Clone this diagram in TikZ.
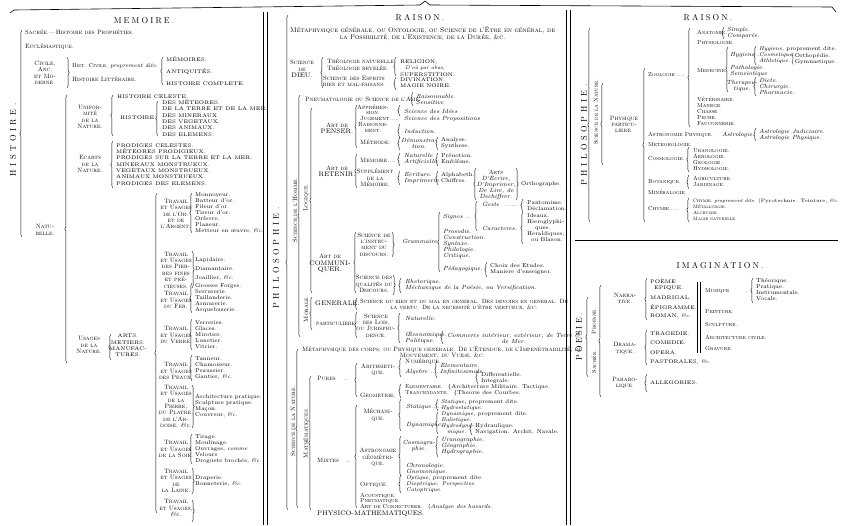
\documentclass[tikz,border=0pt]{standalone}
\usepackage{fontspec}
\usepackage{tikz}
\usetikzlibrary{decorations.pathreplacing}
\newfontfamily\ttlfont[Extension=.otf,LetterSpace=25]{lmroman10-regular}
\newfontfamily\widefont[Extension=.otf,LetterSpace=42]{lmroman10-regular}
\newcommand{\etc}{{\normalfont\itshape\&c.}}
\newcommand{\Bg}[1]{{\normalfont\fontsize{6.6}{6.6}\selectfont #1}}

\begin{document}
\begin{tikzpicture}[x=1pt,y=-1pt]
	\tikzstyle{lbl}=[inner sep=0,align=center,font=\fontsize{6.2}{6.4}\selectfont\scshape]
	\tikzstyle{lbs}=[inner sep=0,align=center,font=\fontsize{5.8}{6}\selectfont\scshape]
	\tikzstyle{itm}=[inner sep=0,align=center,font=\fontsize{5.6}{6}\selectfont]
	\tikzstyle{itl}=[inner sep=0,align=center,font=\fontsize{6}{6}\selectfont\itshape]
	\tikzstyle{big}=[inner sep=0,align=center,font=\fontsize{5.2}{6.3}\selectfont]
	\tikzstyle{ttl}=[inner sep=0,font=\fontsize{8.5}{9}\selectfont\ttlfont]
	\tikzstyle{wide}=[inner sep=0,font=\fontsize{8.5}{9}\selectfont\widefont]
	\tikzstyle{lst}=[align=left,anchor=west]
	\tikzstyle{brc}=[draw,line width=0.4pt,decorate,decoration={brace,amplitude=2.2pt}]
	\tikzstyle{rule}=[draw,line width=0.6pt]
	\useasboundingbox (0,0) rectangle (846,525);
	\draw[rule] (10,13) -- (14,10) -- (420,5) -- (425,1) -- (430,5) -- (832,7) -- (836,12);
	\draw[rule] (263,12) -- (263,525);
	\draw[rule] (267,12) -- (267,525);
	\draw[rule] (566,10) -- (566,525);
	\draw[rule] (570,10) -- (570,525);
	\draw[rule] (575,240) -- (838,240);
	\node[ttl] (mem) at (144,21) {MEMOIRE.};
	\node[wide,rotate=90] (hist) at (13,140) {HISTOIRE.};
	\draw[brc] (22,237) -- (22,30);
	\node[lbl,anchor=west] (h1) at (25,32) {Sacrée.—Histoire des Prophéties.};
	\node[lbl,anchor=west] (h2) at (25,47) {Ecclésiastique.};
	\node[lbl] (h3) at (45,73) {Civile,\\Anc.\\et Mo-\\derne.};
	\draw[brc] (67,57) -- (67,88);
	\node[itm,anchor=west] (h4) at (72,66) {\textsc{Hist. Civile,} \textit{proprement dite.}};
	\node[lbl,anchor=west] (h5) at (72,79) {Histoire Littéraire.};
	\draw[brc] (163,85) -- (163,57);
	\node[big,lst] (h6) at (166,71) {MÉMOIRES.\\[6pt]ANTIQUITÉS.\\[6pt]HISTOIRE COMPLETE.};
	\draw[brc] (67,363) -- (67,95);
	\node[lbl] (h7) at (45,230) {Natu-\\relle.};
	\node[lbl] (h8) at (90,117) {Unifor-\\mité\\de la\\Nature.};
	\draw[brc] (113,136) -- (113,95);
	\node[big,anchor=west] (h9) at (117,97) {HISTOIRE CELESTE.};
	\node[big,anchor=west] (h10) at (120,118) {HISTOIRE.};
	\draw[brc] (158,136) -- (158,101);
	\node[big,lst] (h11) at (162,118) {DES MÉTEORES.\\DE LA TERRE ET DE LA MER.\\DES MINERAUX.\\DES VEGETAUX.\\DES ANIMAUX.\\DES ELEMENS.};
	\node[lbl] (h12) at (90,164) {Ecarts\\de la\\Nature.};
	\draw[brc] (113,188) -- (113,141);
	\node[big,lst] (h13) at (116,164.5) {PRODIGES CELESTES.\\MÉTEORES PRODIGIEUX.\\PRODIGES SUR LA TERRE ET LA MER.\\MINERAUX MONSTRUEUX.\\VEGETAUX MONSTRUEUX.\\ANIMAUX MONSTRUEUX.\\PRODIGES DES ELEMENS.};
	\node[lbl] (h14) at (89,345) {Usages\\de la\\Nature.};
	\draw[brc] (111,360) -- (111,334);
	\node[big] (h15) at (128,345.5) {ARTS.\\METIERS.\\MANUFAC-\\TURES.};
	\draw[brc] (157,513) -- (157,193);
	\node[lbl] (t1) at (176,214) {Travail\\et Usages\\de l'Or.\\et de\\l'Argent.};
	\draw[brc] (192,233) -- (192,193);
	\node[itm,lst] (u1) at (195,213) {Monnoyeur.\\Batteur d'or.\\Fileur d'or.\\Tireur d'or.\\Orfevre.\\Planeur.\\Metteur en œuvre, \etc};
	\node[lbl] (t2) at (176,270) {Travail\\et Usages\\des Pier-\\res fines\\et pré-\\cieuses.};
	\draw[brc] (192,251) -- (192,288);
	\node[itm,lst] (u2) at (195,269) {Lapidaire.\\[3pt]Diamantaire.\\[3pt]Joaillier, \etc};
	\node[lbl] (t3) at (176,300) {Travail\\et Usages\\du Fer.};
	\draw[brc] (192,313) -- (192,283);
	\node[itm,lst] (u3) at (195,298) {Grosses Forges.\\Serrurerie.\\Taillanderie.\\Armurerie.\\Arquebuserie.};
	\node[lbl] (t4) at (176,335) {Travail\\et Usages\\du Verre.};
	\draw[brc] (192,350) -- (192,319);
	\node[itm,lst] (u4) at (195,335) {Verreries.\\Glaces.\\Mirotier.\\Lunetier.\\Vitrier.};
	\node[lbl] (t5) at (176,371) {Travail\\et Usages\\des Peaux.};
	\draw[brc] (192,381) -- (192,355);
	\node[itm,lst] (u5) at (195,368) {Tanneur.\\Chamoiseur.\\Peaussier.\\Gantier, \etc};
	\node[lbl] (t6) at (176,407) {Travail\\et Usages\\de la\\Pierre,\\du Platre,\\de l'Ar-\\doise, \etc};
	\node[itm,lst] (u6) at (195,406) {Architecture pratique.\\Sculpture pratique.\\Maçon.\\Couvreur, \etc};
	\draw[brc] (192,385) -- (192,428);
	\node[lbl] (t7) at (176,449) {Travail\\et Usages\\de la Soie.};
	\draw[brc] (192,464) -- (192,434);
	\node[itm,lst] (u7) at (195,449) {Tirage.\\Moulinage.\\Ouvrages, \textit{comme}\\Velours\\Droguets brochés, \etc};
	\node[lbl] (t8) at (176,481) {Travail\\et Usages\\de\\la Laine.};
	\draw[brc] (192,468) -- (192,494);
	\node[itm,lst] (u8) at (195,481.5) {Draperie.\\Bonneterie, \etc};
	\node[lbl] (t9) at (176,508) {Travail\\et Usages,\\\etc};
	\draw[brc] (192,500) -- (192,522);
	\node[ttl] (rai) at (420,18) {RAISON.};
	\node[lbl,anchor=west,font=\fontsize{6.8}{7.4}\selectfont\scshape] (p1) at (290,34) {Métaphysique générale, ou Ontologie, ou Science de l'Être en général, de\\la Possibilité, de l'Existence, de la Durée, \&c.};
	\node[wide,rotate=90] (phil) at (276,258) {PHILOSOPHIE.};
	\draw[brc] (288,510) -- (288,15);
	\node[lbl] (p2) at (302,69) {Science\\de\\\Bg{DIEU.}};
	\draw[brc] (323,88) -- (323,57);
	\node[lbl,lst] (p3) at (327,64.5) {Théologie naturelle.\\Théologie revelée.};
	\node[lbl] (p4) at (354,81.5) {Science des Esprits\\bien et mal-faisans.};
	\draw[brc] (396,76) -- (396,57);
	\node[big,lst] (p5) at (400,68) {RELIGION,\\\hspace{5pt}\textit{D'où par abus,}\\SUPERSTITION.};
	\draw[brc] (396,90) -- (396,77);
	\node[big,lst] (p6) at (400,83) {DIVINATION.\\MAGIE NOIRE.};
	\node[lbl,rotate=90] (p7) at (295,210) {Science de l'Homme.};
	\draw[brc] (300,337) -- (300,95);
	\node[lbl,anchor=west] (p8) at (305,99) {Pneumatologie ou Science de l'Ame.};
	\draw[brc] (413,106) -- (413,92);
	\node[itl,lst] (p9) at (416,99) {Raisonnable.\\Sensitive};
	\node[lbl,rotate=90] (p10) at (306,198) {Logique.};
	\draw[brc] (312,293) -- (312,108);
	\node[lbl] (p11) at (337,128.5) {Art de\\\Bg{PENSER.}};
	\draw[brc] (357,148) -- (357,105);
	\node[lbl,font=\fontsize{6}{5.4}\selectfont\scshape] (p12) at (373,109.5) {Appréhen-\\sion.};
	\node[lbl,anchor=west,font=\fontsize{6}{5.4}\selectfont\scshape] (p13) at (360,118.5) {Jugement.....};
	\node[lbl,font=\fontsize{6}{5.4}\selectfont\scshape] (p14) at (373,127.5) {Raisonne-\\ment.};
	\node[lbl,anchor=west] (p15) at (360,142) {Méthode.};
	\draw[brc] (400,116) -- (400,105);
	\node[itl,anchor=west] (p16) at (404,111) {Science des Idées};
	\node[itl,anchor=west] (p17) at (404,119) {Science des Propositions};
	\draw[brc] (400,138) -- (400,124);
	\node[itl,anchor=west] (p18) at (404,131) {Induction.};
	\draw[brc] (400,150) -- (400,137);
	\node[itl] (p19) at (419,143) {Démonstra-\\tion.};
	\draw[brc] (438,150) -- (438,137);
	\node[itm,lst] (p20) at (441,143) {Analyse.\\Synthese.};
	\node[lbl] (p21) at (337,171.5) {Art de\\\Bg{RETENIR.}};
	\draw[brc] (357,188) -- (357,154);
	\node[lbl,anchor=west] (p22) at (360,160) {Memoire....};
	\node[lbl] (p23) at (375,178) {Supplément\\de la\\Mémoire.};
	\draw[brc] (400,166) -- (400,153);
	\node[itl,lst] (p24) at (404,159) {Naturelle\\Artificielle.};
	\draw[brc] (438,166) -- (438,153);
	\node[itm,lst] (p25) at (441,159) {Prénotion.\\Emblême.};
	\draw[brc] (400,185) -- (400,171);
	\node[itl,lst] (p26) at (404,178) {Ecriture.\\Imprimerie};
	\draw[brc] (438,185) -- (438,171);
	\node[itm,lst] (p27) at (441,178) {Alphabeth.\\Chiffres.};
	\draw[brc] (476,200) -- (476,168);
	\node[itl] (p28) at (496,184.5) {{\normalfont\scshape Arts}\\D'Ecrire,\\D'Imprimer,\\De Lire, de\\Dechiffrer.};
	\draw[brc] (516,168) -- (516,200);
	\node[itm,anchor=west] (p29) at (521,184) {Orthographe.};
	\node[lbl] (p30) at (330,263.5) {Art de\\\Bg{COMMUNI-}\\\Bg{QUER.}};
	\draw[brc] (356,293) -- (356,232);
	\node[lbl] (p31) at (374,244.5) {Science de\\l'instru-\\ment du\\discours.};
	\draw[brc] (392,232) -- (392,257);
	\node[itl,anchor=west] (p32) at (402,241) {Grammaire.};
	\draw[brc] (440,272) -- (440,212);
	\node[itl,anchor=west] (p33) at (443,217) {Signes ..};
	\node[itl,lst] (p34) at (443,244) {Prosodie.\\Construction.\\Syntaxe.\\Philologie.\\Critique.};
	\node[itl,anchor=west] (p35) at (443,269) {Pédagogique.};
	\draw[brc] (487,277) -- (487,262);
	\node[itm,lst] (p36) at (490,269) {Choix des Etudes.\\Maniere d'enseigner.};
	\draw[brc] (477,231) -- (477,201);
	\node[itl,anchor=west] (p37) at (482,204) {Geste \ ......};
	\node[itl,anchor=west] (p38) at (482,228) {Caracteres.};
	\draw[brc] (523,212) -- (523,199);
	\node[itm,lst] (p39) at (527,205.5) {Pantomime.\\Déclamation.};
	\draw[brc] (523,244) -- (523,212);
	\node[itm,lst] (p40) at (527,228) {Ideaux.\\Hieroglyphi-\\\hspace{8pt}ques.\\Heraldiques,\\\hspace{4pt}ou Blason.};
	\node[lbl] (p41) at (374,284) {Science des\\qualités du\\Discours.};
	\draw[brc] (393,275) -- (393,295);
	\draw[brc] (401,293) -- (401,278);
	\node[itl,lst] (p42) at (405,285) {Rhetorique.\\Méchanique de la Poésie, ou Versification.};
	\node[lbl,rotate=90] (p43) at (306,309) {Morale.};
	\draw[brc] (312,330) -- (312,297);
	\node[big,anchor=west] (p44) at (315,303) {\Bg{GENERALE.}};
	\draw[brc] (357,310) -- (357,298);
	\node[lbl,anchor=west,font=\fontsize{6.05}{6.8}\selectfont\scshape] (p45) at (360,305) {Science du bien et du mal en general. Des devoirs en general. De\\la vertu. De la necessité d'être vertueux, \&c.};
	\node[lbl,anchor=west] (p46) at (316,324) {particuliere};
	\draw[brc] (357,338) -- (357,312);
	\node[lbl] (p47) at (376,325.5) {Science\\des Lois,\\ou Jurispru-\\dence.};
	\draw[brc] (400,343) -- (400,313);
	\node[itl,anchor=west] (p48) at (405,318) {Naturelle.};
	\node[itl,lst] (p49) at (405,338) {Œconomique.\\Politique.};
	\draw[brc] (443,344) -- (443,331);
	\node[itl,anchor=west] (p50) at (447,338) {Commerce intérieur, extérieur, de Terre \&\\de Mer.};
	\node[lbl,anchor=west,font=\fontsize{6.25}{6.2}\selectfont\scshape] (p51) at (302,353) {Métaphysique des corps, ou Physique generale. De l'Etendue, de l'Impenetrabilité, du\\Mouvement, du Vuide, \&c.};
	\node[lbl,rotate=90] (p52) at (293,421) {Science de la Nature.};
	\draw[brc] (298,508) -- (298,349);
	\node[lbl,rotate=90] (p53) at (306,433) {Mathématiques.};
	\draw[brc] (311,510) -- (311,376);
	\node[lbl,anchor=west] (p54) at (317,378) {Pures \quad ..};
	\node[lbl,anchor=west] (p55) at (317,460) {Mixtes \ \ ..};
	\draw[brc] (357,397) -- (357,363);
	\node[lbl] (p56) at (378,370) {Arithmeti-\\que.};
	\node[lbl,anchor=west] (p57) at (360,395) {Geometrie.};
	\draw[brc] (401,377) -- (401,358);
	\node[lbl,anchor=west] (p58) at (405,362) {Numérique.};
	\node[itl,anchor=west] (p59) at (405,372) {Algebre .....};
	\draw[brc] (437,378) -- (437,361);
	\node[itl,lst] (p60) at (440,369) {Elementaire.\\Infinitesimale};
	\draw[brc] (478,384) -- (478,371);
	\node[itm,lst] (p61) at (481,378) {Differentielle.\\Integrale.};
	\draw[brc] (401,398) -- (401,384);
	\node[itm,lst] (p62) at (405,390.5) {\textsc{Elementaire.} \ \{Architecture Militaire. Tactique.\\\textsc{Trancendante.} \ \{Theorie des Courbes.};
	\draw[brc] (357,508) -- (357,405);
	\node[lbl] (p63) at (378,415) {Méchani-\\que.};
	\draw[brc] (401,431) -- (401,399);
	\node[itl,anchor=west] (p64) at (406,407) {Statique.....};
	\node[itl,anchor=west] (p65) at (406,425) {Dynamique.};
	\draw[brc] (438,411) -- (438,399);
	\node[itm,lst] (p66) at (441,405) {\textit{Statique}, proprement dite.\\\textit{Hydrostatique.}};
	\draw[brc] (438,434) -- (438,412);
	\node[itm,lst] (p67) at (441,423) {\textit{Dynamique}, proprement dite.\\\textit{Balistique.}\\\textit{Hydrodyna-}\\\hspace{6pt}\textit{mique.}};
	\draw[brc] (472,435) -- (472,423);
	\node[itm,lst] (p68) at (475,429.5) {Hydraulique.\\Navigation. Archit. Navale.};
	\node[lbl] (p69) at (378,457.5) {Astronomie\\géométri-\\que.};
	\draw[brc] (401,476) -- (401,436);
	\node[itl] (p70) at (419,445.5) {Cosmogra-\\phie.};
	\draw[brc] (438,457) -- (438,436);
	\node[itl,lst] (p71) at (441,446.5) {Uranographie.\\Géographie.\\Hydrographie.};
	\node[itl,lst] (p72) at (406,469) {Chronologie.\\Gnomonique.};
	\node[lbl,anchor=west] (p73) at (360,485) {Optique.};
	\draw[brc] (401,493) -- (401,475);
	\node[itm,lst] (p74) at (406,484) {\textit{Optique}, proprement dite.\\\textit{Dioptrique. Perspective.}\\\textit{Catoptrique.}};
	\node[lbl,lst,font=\fontsize{5.8}{5.2}\selectfont\scshape] (p75) at (360,501.5) {Acoustique.\\Pneumatique.\\Art de Conjecturer. \ \{{\normalfont\itshape Analyse des hasards.}};
	\node[big,anchor=west] (p76) at (317,514) {\Bg{PHYSICO-MATHEMATIQUES.}};
	\node[ttl] (rai2) at (708,18) {RAISON.};
	\node[wide,rotate=90] (phil2) at (584,135) {PHILOSOPHIE.};
	\draw[brc] (590,222) -- (590,28);
	\node[lbs,rotate=90] (r1) at (596,112) {Science de la Nature.};
	\draw[brc] (603,165) -- (603,83);
	\node[lbl] (r2) at (624,124.5) {Physique\\particu-\\liere.};
	\draw[brc] (645,222) -- (645,68);
	\node[lbs,anchor=west] (r3) at (648,75) {Zoologie ....};
	\draw[brc] (690,127) -- (690,28);
	\node[lbs,anchor=west] (r4) at (697,32) {Anatomie.};
	\draw[brc] (724,39) -- (724,27);
	\node[itl,lst] (r5) at (727,33) {Simple.\\Comparée.};
	\node[lbs,anchor=west] (r6) at (697,43) {Physiologie.};
	\node[lbs,anchor=west] (r7) at (697,71) {Medecine.};
	\draw[brc] (728,92) -- (728,47);
	\node[itl,anchor=west] (r8) at (730,55) {Hygiene..};
	\node[itl,lst] (r9) at (730,70.5) {Pathologie.\\Semeiotique};
	\node[itl] (r10) at (742,85.5) {Therapeu-\\tique.};
	\draw[brc] (756,65) -- (756,46);
	\node[itm,lst] (r11) at (759,55.5) {\textit{Hygiene}, proprement dite.\\\textit{Cosmetique.}\\\textit{Athletique.}};
	\node[itm,lst] (r12) at (791,59) {\{Orthopédie.\\\{Gymnastique.};
	\draw[brc] (756,96) -- (756,77);
	\node[itl,lst] (r13) at (759,86.5) {Diete.\\Chirurgie.\\Pharmacie.};
	\node[lbs,lst] (r14) at (697,111) {Vétérinaire.\\Manege.\\Chasse\\Peche.\\Fauconnerie.};
	\node[lbs,anchor=west] (r15) at (648,135) {Astronomie Physique.};
	\node[itl,anchor=west] (r16) at (722,135) {Astrologie.};
	\draw[brc] (756,141) -- (756,128);
	\node[itl,lst] (r17) at (759,134.5) {Astrologie Judiciaire.\\Astrologie Physique.};
	\node[lbs,anchor=west] (r18) at (648,145) {Meteorologie.};
	\node[lbs,anchor=west] (r19) at (648,159) {Cosmologie.};
	\draw[brc] (689,172) -- (689,147);
	\node[lbs,lst] (r20) at (693,159.5) {Uranologie.\\Aerologie.\\Geologie.\\Hydrologie.};
	\node[lbs,anchor=west] (r21) at (648,182) {Botanique.};
	\draw[brc] (689,189) -- (689,175);
	\node[lbs,lst] (r22) at (693,181) {Agriculture.\\Jardinage.};
	\node[lbs,anchor=west] (r23) at (648,192) {Minéralogie.};
	\node[lbs,anchor=west] (r24) at (648,209) {Chymie.. ..};
	\draw[brc] (689,222) -- (689,198);
	\node[lbs,lst,font=\fontsize{4.9}{5.8}\selectfont\scshape] (r25) at (693,209.5) {Chymie, {\normalfont\itshape proprement dite.} \{{\normalfont Pyrotechnie. Teinture, \etc}\\Métallurgie.\\Alchymie.\\Magie naturelle.};
	\node[ttl] (ima) at (720,266) {IMAGINATION.};
	\node[ttl,rotate=90] (poe) at (579,337) {POESIE.};
	\draw[brc] (588,377) -- (588,297);
	\node[lbs,rotate=90] (i1) at (594,321) {Profane.};
	\node[lbs,rotate=90] (i2) at (594,362) {Sacrée.};
	\draw[brc] (601,397) -- (601,285);
	\node[lbl] (i3) at (625,298.5) {Narra-\\tive.};
	\draw[brc] (647,320) -- (647,278);
	\node[big,lst] (i4) at (650,285) {POËME\\\hspace{4pt}EPIQUE.};
	\node[big,anchor=west] (i5) at (650,298) {MADRIGAL.};
	\node[big,anchor=west] (i6) at (650,307) {ÉPIGRAMME.};
	\node[big,anchor=west] (i7) at (650,316) {ROMAN, \etc};
	\node[lbl] (i8) at (625,348.5) {Drama-\\tique.};
	\draw[brc] (647,365) -- (647,330);
	\node[big,lst] (i9) at (650,348) {TRAGEDIE.\\[3pt]COMEDIE.\\[3pt]OPERA.\\[3pt]PASTORALES, \etc};
	\node[lbl] (i10) at (625,383) {Parabo-\\lique.};
	\draw[brc] (647,392) -- (647,374);
	\node[big,anchor=west] (i11) at (650,383) {ALLEGORIES.};
	\draw[rule] (697,282) -- (697,353);
	\draw[line width=0.4pt] (700,282) -- (700,353);
	\node[lbs,anchor=west] (i12) at (705,291) {Musique \hspace{12pt} . .};
	\draw[brc] (753,303) -- (753,278);
	\node[itm,lst] (i13) at (756,290) {Théorique.\\Pratique.\\Instrumentale.\\Vocale.};
	\node[lbs,anchor=west] (i14) at (705,312) {Peinture.};
	\node[lbs,anchor=west] (i15) at (705,325) {Sculpture.};
	\node[lbs,anchor=west] (i16) at (705,337) {Architecture civile.};
	\node[lbs,anchor=west] (i17) at (705,349) {Gravure.};
\end{tikzpicture}
\end{document}
